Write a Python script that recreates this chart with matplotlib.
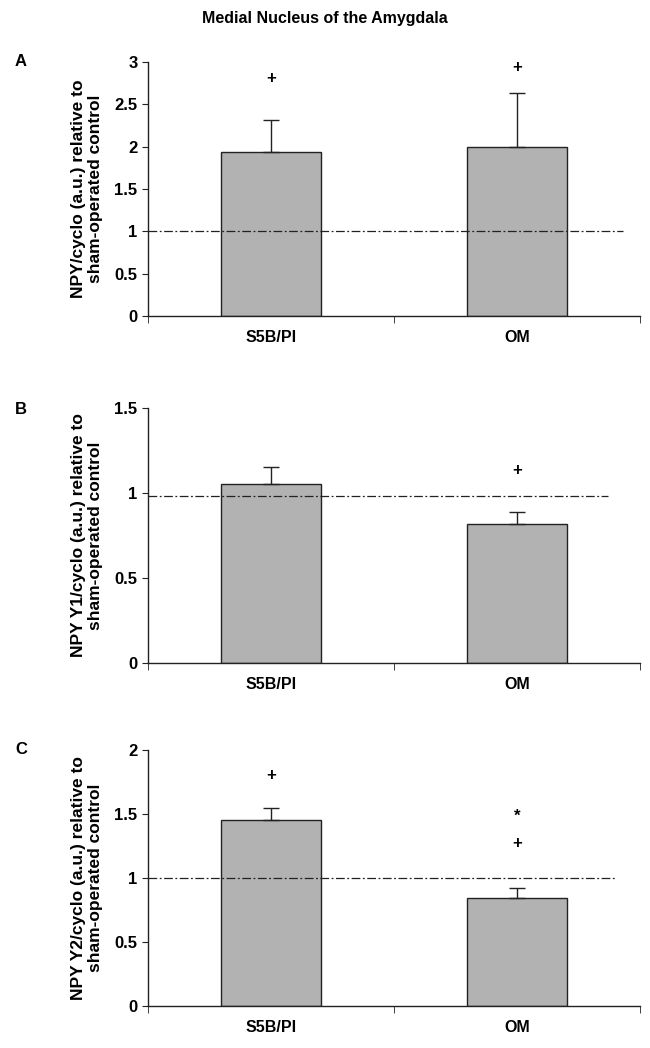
import matplotlib
matplotlib.use("Agg")
import matplotlib.pyplot as plt
import numpy as np

plt.rcParams['font.family'] = ['Liberation Sans', 'DejaVu Sans']
plt.rcParams['font.weight'] = 'bold'

title = "Medial Nucleus of the Amygdala"
categories = ["S5B/PI", "OM"]

panel_labels = ["A", "B", "C"]
ylabels = ["NPY/cyclo (a.u.) relative to\nsham-operated control",
           "NPY Y1/cyclo (a.u.) relative to\nsham-operated control",
           "NPY Y2/cyclo (a.u.) relative to\nsham-operated control"]

means_A = [1.94, 2.00]
errs_A = [0.38, 0.63]
means_B = [1.05, 0.82]
errs_B = [0.10, 0.07]
means_C = [1.45, 0.84]
errs_C = [0.10, 0.08]

ref_A, ref_B, ref_C = 1.0, 0.98, 1.0
ref_end = [1.43, 1.37, 1.40]  # in category units (x)

ylim_list = [(0, 3), (0, 1.5), (0, 2)]
yticks_list = [[0, 0.5, 1, 1.5, 2, 2.5, 3], [0, 0.5, 1, 1.5], [0, 0.5, 1, 1.5, 2]]
yticklabels_list = [["0", "0.5", "1", "1.5", "2", "2.5", "3"],
                    ["0", "0.5", "1", "1.5"],
                    ["0", "0.5", "1", "1.5", "2"]]

# annotations: (category index, y, text)
annot_A = [(0, 2.8, "+"), (1, 2.93, "+")]
annot_B = [(1, 1.13, "+")]
annot_C = [(0, 1.80, "+"), (1, 1.48, "*"), (1, 1.27, "+")]

fig = plt.figure(figsize=(6.5, 10.48), dpi=100)
fig.text(0.5, 0.982, title, ha='center', va='center', fontsize=11.5, fontweight='bold')

positions = [[0.2277, 0.6985, 0.757, 0.2424],
             [0.2277, 0.3674, 0.757, 0.2433],
             [0.2277, 0.0401, 0.757, 0.2443]]

means = [means_A, means_B, means_C]
errs = [errs_A, errs_B, errs_C]
refs = [ref_A, ref_B, ref_C]
annots = [annot_A, annot_B, annot_C]
label_y = [62, 410, 750]

x = np.arange(len(categories))
for i in range(3):
    ax = fig.add_axes(positions[i])
    ax.bar(x, means[i], width=0.41, color='#b2b2b2', edgecolor='#222222', linewidth=1.0, zorder=2)
    ax.errorbar(x, means[i], yerr=[np.zeros(2), errs[i]], fmt='none', ecolor='#222222',
                elinewidth=1.0, capsize=6, capthick=1.0, zorder=3)
    ax.plot([-0.5, ref_end[i]], [refs[i], refs[i]], color='#222222', linestyle=(0, (7, 2, 1.5, 2)),
            linewidth=0.9, zorder=4)
    for (ci, yv, txt) in annots[i]:
        ax.text(ci, yv, txt, ha='center', va='center', fontsize=12, fontweight='bold')
    ax.set_xlim(-0.5, 1.5)
    ax.set_ylim(*ylim_list[i])
    ax.set_yticks(yticks_list[i])
    ax.set_yticklabels(yticklabels_list[i], fontsize=12, fontweight='bold')
    ax.set_xticks(x)
    ax.set_xticklabels(categories, fontsize=11.5, fontweight='bold')
    ax.tick_params(axis='x', which='major', length=0, pad=10)
    ax.set_xticks([-0.5, 0.5, 1.5], minor=True)
    ax.tick_params(axis='x', which='minor', length=5, direction='out', color='#222222')
    ax.tick_params(axis='y', length=4, direction='out', color='#222222')
    for s in ['top', 'right']:
        ax.spines[s].set_visible(False)
    for s in ['left', 'bottom']:
        ax.spines[s].set_color('#222222')
        ax.spines[s].set_linewidth(1.0)
    ax.set_ylabel(ylabels[i], fontsize=12.5, fontweight='bold', labelpad=8)
    fig.text(15/650, 1 - label_y[i]/1048, panel_labels[i], ha='left', va='center',
             fontsize=12, fontweight='bold')

fig.savefig("out.png", dpi=100)
